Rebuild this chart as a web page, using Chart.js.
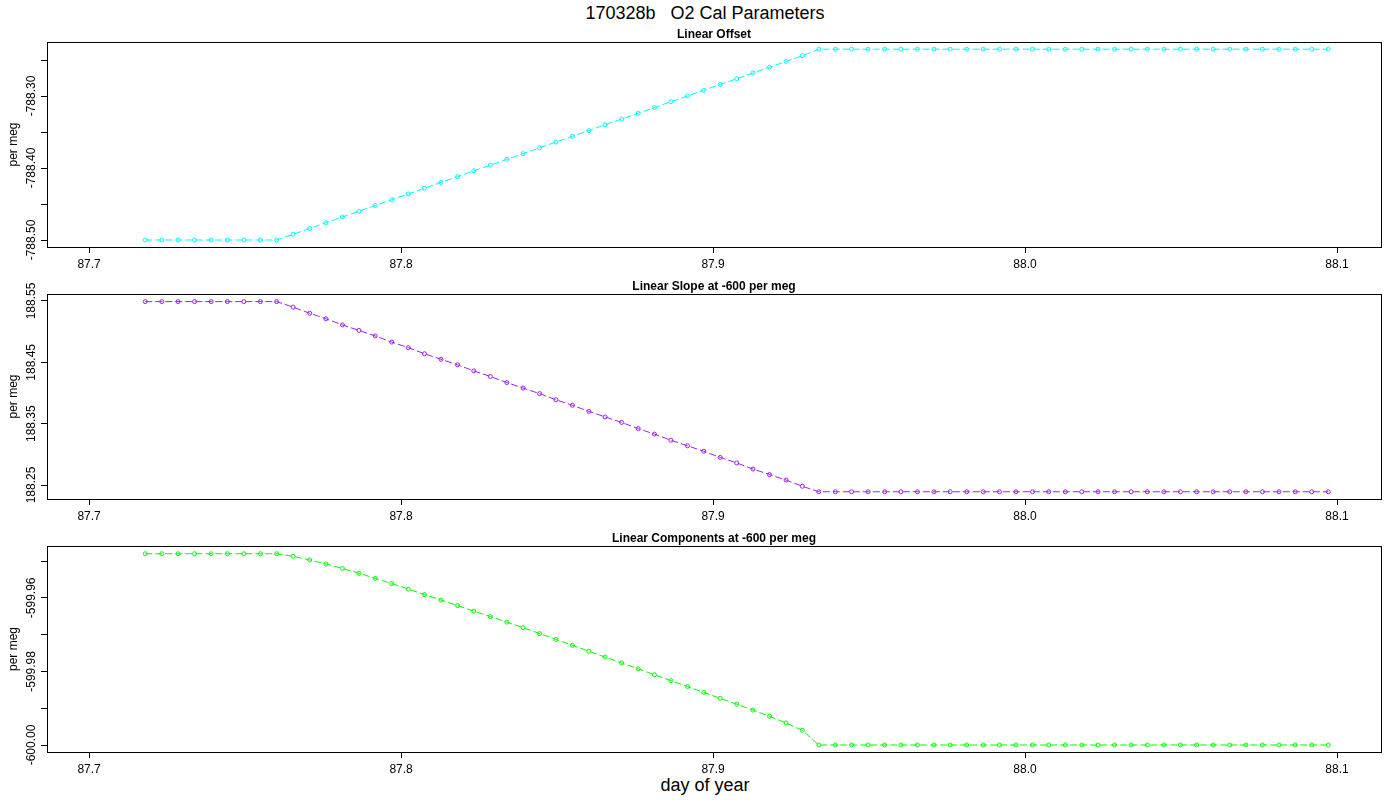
<!DOCTYPE html>
<html><head><meta charset="utf-8">
<script src="https://cdn.jsdelivr.net/npm/chart.js@4/dist/chart.umd.min.js"></script>
<style>
body{margin:0;width:1400px;height:800px;background:#fff;font-family:"Liberation Sans",Arial,sans-serif;position:relative;overflow:hidden}
canvas{position:absolute;left:0}
.t{position:absolute;width:1400px;text-align:center;color:#000}
</style></head><body>
<div class="t" style="top:3px;left:5px;font-size:18px">170328b&nbsp;&nbsp;&nbsp;O2 Cal Parameters</div>
<div class="t" style="top:775px;left:5px;font-size:18px">day of year</div>
<div style="position:absolute;top:25px;width:1400px;height:257px"><canvas id="c1"></canvas></div>
<div style="position:absolute;top:277px;width:1400px;height:257px"><canvas id="c2"></canvas></div>
<div style="position:absolute;top:529px;width:1400px;height:258px"><canvas id="c3"></canvas></div>
<script>
const xStart = 87.718, xStep = 0.005266, nPoints = 73;
const dayOfYear = Array.from({length:nPoints},(_,i)=>+(xStart+i*xStep).toFixed(4));
const xTicks = [87.7, 87.8, 87.9, 88.0, 88.1];

const linearOffset = [-788.50,-788.50,-788.50,-788.50,-788.50,-788.50,-788.50,-788.50,-788.50,
-788.492,-788.484,-788.476,-788.468,-788.460,-788.452,-788.444,-788.436,-788.428,-788.420,-788.412,-788.404,-788.396,-788.388,-788.380,-788.372,-788.364,-788.356,-788.348,-788.340,-788.332,-788.324,-788.316,-788.308,-788.300,-788.292,-788.284,-788.276,-788.268,-788.260,-788.252,-788.244,
-788.235,-788.235,-788.235,-788.235,-788.235,-788.235,-788.235,-788.235,-788.235,-788.235,-788.235,-788.235,-788.235,-788.235,-788.235,-788.235,-788.235,-788.235,-788.235,-788.235,-788.235,-788.235,-788.235,-788.235,-788.235,-788.235,-788.235,-788.235,-788.235,-788.235,-788.235,-788.235];

const linearSlope = [188.549,188.549,188.549,188.549,188.549,188.549,188.549,188.549,188.549,
188.540,188.530,188.521,188.511,188.502,188.493,188.483,188.474,188.464,188.455,188.446,188.436,188.427,188.417,188.408,188.399,188.389,188.380,188.370,188.361,188.352,188.342,188.333,188.323,188.314,188.305,188.295,188.286,188.276,188.267,188.258,188.248,
188.239,188.239,188.239,188.239,188.239,188.239,188.239,188.239,188.239,188.239,188.239,188.239,188.239,188.239,188.239,188.239,188.239,188.239,188.239,188.239,188.239,188.239,188.239,188.239,188.239,188.239,188.239,188.239,188.239,188.239,188.239,188.239];

const linearComponents = [-599.948,-599.948,-599.948,-599.948,-599.948,-599.948,-599.948,-599.948,-599.948,
-599.9487,-599.9497,-599.9508,-599.9520,-599.9533,-599.9547,-599.9561,-599.9576,-599.9591,-599.9606,-599.9621,-599.9636,-599.9651,-599.9666,-599.9681,-599.9697,-599.9713,-599.9729,-599.9745,-599.9761,-599.9777,-599.9793,-599.9809,-599.9825,-599.9841,-599.9857,-599.9873,-599.9889,-599.9905,-599.9922,-599.9940,-599.9960,
-600.000,-600.000,-600.000,-600.000,-600.000,-600.000,-600.000,-600.000,-600.000,-600.000,-600.000,-600.000,-600.000,-600.000,-600.000,-600.000,-600.000,-600.000,-600.000,-600.000,-600.000,-600.000,-600.000,-600.000,-600.000,-600.000,-600.000,-600.000,-600.000,-600.000,-600.000,-600.000];

const yTicks1 = [-788.50,-788.45,-788.40,-788.35,-788.30,-788.25], yLab1=[-788.50,-788.40,-788.30];
const yTicks2 = [188.25,188.35,188.45,188.55], yLab2=[188.25,188.35,188.45,188.55];
const yTicks3 = [-600.00,-599.99,-599.98,-599.97,-599.96,-599.95], yLab3=[-600.00,-599.98,-599.96];

const boxPlugin = {
  id:'box',
  afterDraw(chart, args, o){
    const {ctx, chartArea:a} = chart;
    ctx.save();
    ctx.strokeStyle='#000'; ctx.lineWidth=1;
    ctx.strokeRect(a.left+0.5,a.top+0.5,a.right-a.left,a.bottom-a.top);
    ctx.fillStyle='#000';
    ctx.font='bold 12px "Liberation Sans", Arial, sans-serif';
    ctx.textAlign='center'; ctx.textBaseline='bottom';
    ctx.fillText(o.title,(a.left+a.right)/2,a.top-1);
    const y = chart.scales.y;
    ctx.font='12px "Liberation Sans", Arial, sans-serif';
    ctx.textBaseline='middle';
    o.labels.forEach(v=>{
      const p = y.getPixelForValue(v);
      ctx.save(); ctx.translate(a.left-15,p); ctx.rotate(-Math.PI/2);
      ctx.fillText(v.toFixed(2),0,0); ctx.restore();
    });
    ctx.save(); ctx.translate(14,(a.top+a.bottom)/2); ctx.rotate(-Math.PI/2);
    ctx.fillText('per meg',0,0); ctx.restore();
    ctx.restore();
  }
};

function make(id, data, color, ymin, ymax, ticks, labels, title){
  new Chart(document.getElementById(id),{
    type:'line',
    data:{datasets:[{data:dayOfYear.map((x,i)=>({x,y:data[i]})),borderColor:color,borderWidth:1,borderDash:[7,3],
      pointRadius:2,pointBorderWidth:1,pointBorderColor:color,pointBackgroundColor:'rgba(0,0,0,0)',fill:false,tension:0}]},
    options:{
      responsive:true,maintainAspectRatio:false,animation:false,
      layout:{padding:{top:17,right:19,left:0,bottom:0}},
      plugins:{legend:{display:false},tooltip:{enabled:false},box:{title,labels}},
      scales:{
        x:{type:'linear',min:87.6865,max:88.1141,
          afterBuildTicks:s=>{s.ticks=xTicks.map(v=>({value:v}))},
          afterFit:s=>{s.height=35},
          grid:{drawOnChartArea:false,drawTicks:true,tickLength:6,color:'#000'},
          border:{display:false},
          ticks:{color:'#000',font:{size:12,family:'"Liberation Sans", Arial'},padding:4,maxRotation:0,callback:v=>v.toFixed(1)}},
        y:{type:'linear',min:ymin,max:ymax,
          afterBuildTicks:s=>{s.ticks=ticks.map(v=>({value:v}))},
          afterFit:s=>{s.width=47},
          grid:{drawOnChartArea:false,drawTicks:true,tickLength:6,color:'#000'},
          border:{display:false},
          ticks:{callback:()=>''}}
      }
    },
    plugins:[boxPlugin]
  });
}
make('c1',linearOffset,'#00ffff',-788.5097,-788.225,yTicks1,yLab1,'Linear Offset');
make('c2',linearSlope,'#a020f0',188.2272,188.5614,yTicks2,yLab2,'Linear Slope at -600 per meg');
make('c3',linearComponents,'#00ff00',-600.0019,-599.9459,yTicks3,yLab3,'Linear Components at -600 per meg');
</script></body></html>
